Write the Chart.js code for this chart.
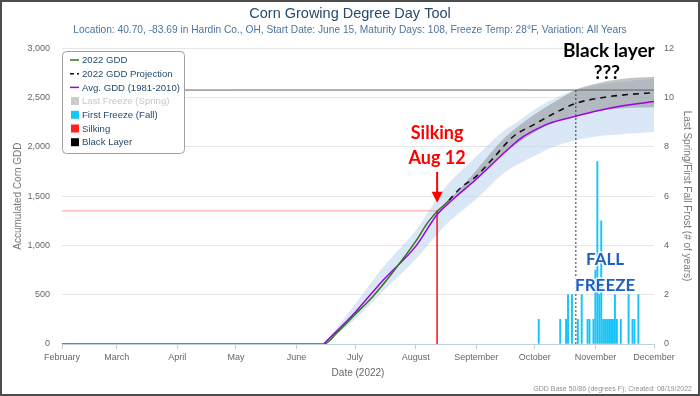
<!DOCTYPE html>
<html><head><meta charset="utf-8">
<script src="https://cdn.jsdelivr.net/npm/chart.js@4.4.0/dist/chart.umd.min.js"></script>
<style>
html,body{margin:0;padding:0;background:#fff;}
#wrap{position:relative;width:700px;height:396px;}
#frame{position:absolute;left:0;top:0;width:700px;height:396px;box-sizing:border-box;border:2px solid #4d4d4d;pointer-events:none;}
</style></head><body>
<div id="wrap"><canvas id="c" width="700" height="396"></canvas><div id="frame"></div></div>
<script>
// ---------- data ----------
const monthStarts = ['02-01','03-01','04-01','05-01','06-01','07-01','08-01','09-01','10-01','11-01','12-01'];
const monthLabels = ['February','March','April','May','June','July','August','September','October','November','December'];

const gddDates  = ['02-01','06-15','06-22','07-01','07-10','07-20','08-01','08-07','08-10','08-12','08-15','08-18'];
const gddValues = [0, 0, 120, 300, 480, 720, 1040, 1225, 1300, 1345, 1400, 1455];

const avgDates  = ['06-15','07-01','07-15','08-01','08-12','08-20','09-01','09-17','09-24','10-03','10-08','10-22','11-01','11-15','12-01'];
const avgValues = [0, 320, 640, 990, 1313, 1465, 1670, 1970, 2088, 2189, 2235, 2310, 2360, 2415, 2458];

const projDates  = ['08-18','08-24','09-01','09-09','09-20','10-01','10-10','10-22','11-05','11-18','12-01'];
const projValues = [1455, 1583, 1700, 1869, 2104, 2230, 2330, 2440, 2500, 2530, 2548];

const bandDates = ['06-15','07-01','07-15','08-01','08-15','09-01','09-15','09-24','10-01','10-12','10-29','11-15','12-01'];
const bandLow   = [0, 250, 530, 860, 1180, 1470, 1730, 1840, 1910, 2010, 2095, 2130, 2150];
const bandHigh  = [0, 400, 770, 1150, 1560, 1900, 2160, 2280, 2380, 2500, 2610, 2660, 2690];

const projBandDates = ['08-18','09-01','09-15','10-01','10-15','10-22','11-01','11-15','12-01'];
const projBandLow   = [1455, 1670, 1930, 2150, 2280, 2320, 2360, 2390, 2400];
const projBandHigh  = [1455, 1760, 2080, 2330, 2500, 2580, 2640, 2690, 2710];

const freezeDates  = ['10-03','10-14','10-17','10-18','10-20','10-23','10-25','10-28','10-29','10-31','11-01','11-02','11-03','11-04','11-05','11-06','11-07','11-08','11-09','11-10','11-11','11-12','11-14','11-18','11-20','11-21','11-23'];
const freezeCounts = [1, 1, 1, 2, 2, 1, 2, 1, 1, 1, 3, 7.4, 2, 5, 1, 1, 1, 1, 1, 1, 2, 1, 1, 2, 1, 1, 2];

const silkingDate = '08-12';
const silkingGdd = 1350;
const blackLayerDate = '10-22';
const blackLayerGdd = 2575;

const titleText = 'Corn Growing Degree Day Tool';
const subtitleText = 'Location: 40.70, -83.69 in Hardin Co., OH, Start Date: June 15, Maturity Days: 108, Freeze Temp: 28°F, Variation: All Years';
const creditText = 'GDD Base 50/86 (degrees F); Created: 08/19/2022';

// ---------- helpers ----------
const YEAR = 2022;
const dayOf = md => { const [m, d] = md.split('-').map(Number); return (Date.UTC(YEAR, m - 1, d) - Date.UTC(YEAR, 1, 1)) / 86400000; };
const pts = (dates, vals) => dates.map((d, i) => ({x: dayOf(d), y: vals[i]}));
const monthDays = monthStarts.map(dayOf);
const xMax = dayOf('12-01');
const fmt = v => String(v).replace(/\B(?=(\d{3})+(?!\d))/g, ',');

const FONT = '"Liberation Sans", Arial, sans-serif';
Chart.defaults.font.family = FONT;

const sd = dayOf(silkingDate), bd = dayOf(blackLayerDate);

const datasets = [
  {label:'2022 GDD', legendType:'line', data: pts(gddDates, gddValues), borderColor:'#347519', borderWidth:1.5, pointRadius:0, cubicInterpolationMode:'monotone', order:1, yAxisID:'y'},
  {label:'2022 GDD Projection', legendType:'dash', data: pts(projDates, projValues), borderColor:'#111', borderWidth:1.6, borderDash:[6,5], pointRadius:0, cubicInterpolationMode:'monotone', order:1, yAxisID:'y'},
  {label:'Avg. GDD (1981-2010)', legendType:'line', data: pts(avgDates, avgValues), borderColor:'#9b00e6', borderWidth:1.5, pointRadius:0, cubicInterpolationMode:'monotone', order:1, yAxisID:'y'},
  {label:'Last Freeze (Spring)', legendType:'box', legendColor:'#cccccc', type:'bar', hidden:true, data:[], backgroundColor:'#aaaaaa', yAxisID:'y1', order:3},
  {label:'First Freeze (Fall)', legendType:'box', legendColor:'#19c5f8', type:'bar', data: pts(freezeDates, freezeCounts), backgroundColor:'#19c5f8', barThickness:1.3, yAxisID:'y1', order:3},
  {label:'Silking', legendType:'box', legendColor:'#ff2020', data:[{x:0,y:silkingGdd},{x:sd,y:silkingGdd},{x:sd,y:0}], borderWidth:1, pointRadius:0,
    borderColor:'#ff2a2a', segment:{borderColor: c => c.p0DataIndex === 0 ? 'rgba(255,110,110,0.7)' : '#ff2a2a'}, order:2, yAxisID:'y'},
  {label:'Black Layer', legendType:'box', legendColor:'#000000', data:[{x:0,y:blackLayerGdd},{x:xMax,y:blackLayerGdd}], borderColor:'#5e5e5e', borderWidth:1, pointRadius:0, order:2, yAxisID:'y'},
  {label:'Black Layer date', data:[{x:bd,y:blackLayerGdd},{x:bd,y:0}], borderColor:'#333', borderWidth:1, borderDash:[2,2], pointRadius:0, order:2, yAxisID:'y'},
  {label:'proj low', data: pts(projBandDates, projBandLow), borderWidth:0, pointRadius:0, fill:false, cubicInterpolationMode:'monotone', order:8, yAxisID:'y'},
  {label:'proj high', data: pts(projBandDates, projBandHigh), borderWidth:0, pointRadius:0, fill:'-1', backgroundColor:'rgba(140,140,140,0.5)', cubicInterpolationMode:'monotone', order:8, yAxisID:'y'},
  {label:'band low', data: pts(bandDates, bandLow), borderWidth:0, pointRadius:0, fill:false, cubicInterpolationMode:'monotone', order:9, yAxisID:'y'},
  {label:'band high', data: pts(bandDates, bandHigh), borderWidth:0, pointRadius:0, fill:'-1', backgroundColor:'rgba(180,208,238,0.5)', cubicInterpolationMode:'monotone', order:9, yAxisID:'y'},
];

// ---------- plugins ----------
const legendPlugin = {
  id:'boxLegend',
  afterDraw(chart){
    const ctx = chart.ctx;
    const items = chart.data.datasets.filter(d => d.legendType);
    const x0 = chart.chartArea.left, y0 = 51, w = 122, h = 102;
    ctx.save();
    ctx.beginPath();
    ctx.roundRect(x0 + 0.5, y0 + 0.5, w, h, 4);
    ctx.fillStyle = 'rgba(255,255,255,0.97)';
    ctx.fill();
    ctx.strokeStyle = '#a0a0a0';
    ctx.lineWidth = 1;
    ctx.stroke();
    ctx.font = '9.6px ' + FONT;
    ctx.textBaseline = 'middle';
    items.forEach((d, i) => {
      const y = y0 + 9 + i * 13.7;
      const muted = d.hidden;
      if (d.legendType === 'line' || d.legendType === 'dash') {
        ctx.beginPath();
        ctx.strokeStyle = d.borderColor;
        ctx.lineWidth = 1.5;
        ctx.setLineDash(d.legendType === 'dash' ? [4,3] : []);
        ctx.moveTo(x0 + 8, y); ctx.lineTo(x0 + 17, y);
        ctx.stroke();
        ctx.setLineDash([]);
      } else {
        ctx.fillStyle = d.legendColor;
        ctx.fillRect(x0 + 9, y - 4, 8, 8);
      }
      ctx.fillStyle = muted ? '#c8c8c8' : '#274b6d';
      ctx.fillText(d.label, x0 + 20, y + 0.5);
    });
    ctx.restore();
  }
};

const notesPlugin = {
  id:'notes',
  afterDraw(chart){
    const {ctx, scales:{x, y}} = chart;
    ctx.save();
    ctx.textAlign = 'center';
    ctx.textBaseline = 'middle';
    // Silking annotation
    const sx = x.getPixelForValue(sd), sy = y.getPixelForValue(silkingGdd);
    ctx.fillStyle = '#ff0000';
    ctx.font = 'bold 18px Lato, "Open Sans", sans-serif';
    ctx.fillText('Silking', sx, sy - 78);
    ctx.fillText('Aug 12', sx, sy - 53);
    ctx.strokeStyle = '#ff0000'; ctx.lineWidth = 2;
    ctx.beginPath(); ctx.moveTo(sx, sy - 39); ctx.lineTo(sx, sy - 18); ctx.stroke();
    ctx.beginPath(); ctx.moveTo(sx - 5.5, sy - 19); ctx.lineTo(sx + 5.5, sy - 19); ctx.lineTo(sx, sy - 8); ctx.closePath(); ctx.fill();
    // Black layer annotation
    const bx = x.getPixelForValue(bd);
    ctx.fillStyle = '#000';
    ctx.font = 'bold 19px Lato, "Open Sans", sans-serif';
    ctx.fillText('Black layer', bx + 33, 51);
    ctx.fillText('???', bx + 31, 73);
    // Fall freeze annotation
    const fx = x.getPixelForValue(dayOf('11-06'));
    ctx.font = 'bold 17px Lato, "Open Sans", sans-serif';
    ctx.lineWidth = 3; ctx.strokeStyle = 'rgba(255,255,255,0.85)'; ctx.lineJoin = 'round';
    ctx.strokeText('FALL', fx, 260); ctx.strokeText('FREEZE', fx, 285.5);
    ctx.fillStyle = '#1f5fbf';
    ctx.fillText('FALL', fx, 260); ctx.fillText('FREEZE', fx, 285.5);
    // credits
    ctx.textAlign = 'right'; ctx.textBaseline = 'alphabetic';
    ctx.font = '7px ' + FONT; ctx.fillStyle = '#909090';
    ctx.fillText(creditText, 692, 391);
    ctx.restore();
  }
};

new Chart(document.getElementById('c'), {
  type:'line',
  data:{datasets},
  options:{
    responsive:false, animation:false, devicePixelRatio:1,
    layout:{padding:{left:0, right:0, top:0, bottom:15}},
    plugins:{
      legend:{display:false}, tooltip:{enabled:false},
      title:{display:true, text:titleText, color:'#274b6d', font:{size:14.5, weight:'normal'}, padding:{top:5.5, bottom:0}},
      subtitle:{display:true, text:subtitleText, color:'#4d759e', font:{size:10.2}, padding:{top:1, bottom:12}}
    },
    scales:{
      x:{type:'linear', min:0, max:xMax, offset:false,
        afterBuildTicks: s => { s.ticks = monthDays.map(v => ({value:v})); },
        ticks:{callback:(v, i) => monthLabels[i], color:'#666', font:{size:9}, padding:3, maxRotation:0, autoSkip:false},
        grid:{drawOnChartArea:false, drawTicks:true, tickLength:5, color:'#C0D0E0', offset:false},
        border:{color:'#C0D0E0', width:1},
        title:{display:true, text:'Date (2022)', color:'#666', font:{size:10}, padding:{top:0, bottom:2}},
        afterFit: s => { s.height = 37; }
      },
      y:{position:'left', min:0, max:3000,
        ticks:{stepSize:500, color:'#666', font:{size:9}, padding:12, callback: v => fmt(v)},
        grid:{color:'#e6e6e6', drawTicks:false},
        border:{display:false},
        title:{display:true, text:'Accumulated Corn GDD', color:'#777', font:{size:10}, padding:{top:12, bottom:0}},
        afterFit: s => { s.width = 62; }
      },
      y1:{position:'right', min:0, max:12,
        ticks:{stepSize:2, color:'#666', font:{size:9}, padding:10},
        grid:{drawOnChartArea:false, drawTicks:false},
        border:{display:false},
        title:{display:true, text:'Last Spring/First Fall Frost (# of years)', color:'#777', font:{size:10}, padding:{top:7.5, bottom:0}},
        afterFit: s => { s.width = 46; }
      }
    }
  },
  plugins:[legendPlugin, notesPlugin]
});
</script>
</body></html>
